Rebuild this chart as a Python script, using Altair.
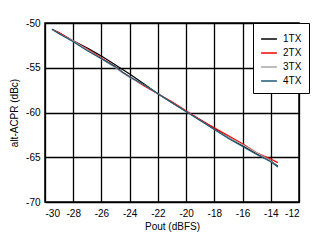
import altair as alt
import pandas as pd

pout = [-29.5, -29, -28, -27, -26, -25, -24.5, -24, -23, -22, -21, -20, -19, -18, -17, -16, -15, -14, -13.5]
tx1 = [-50.7, -51.1, -52.0, -52.8, -53.7, -54.7, -55.2, -55.7, -56.8, -57.9, -58.9, -59.9, -60.8, -61.8, -62.8, -63.7, -64.6, -65.4, -66.0]
tx2 = [-50.7, -51.1, -52.0, -52.9, -53.9, -54.9, -55.5, -56.0, -57.0, -57.9, -58.8, -59.8, -60.8, -61.7, -62.6, -63.5, -64.5, -65.2, -65.6]
tx3 = [-50.7, -51.2, -52.0, -53.0, -54.0, -55.0, -55.6, -56.1, -56.9, -57.9, -58.9, -59.9, -60.9, -61.9, -62.8, -63.6, -64.5, -65.4, -66.1]
tx4 = [-50.7, -51.2, -52.1, -53.1, -54.0, -54.9, -55.5, -56.0, -56.9, -57.9, -58.9, -59.9, -60.9, -61.9, -62.9, -63.8, -64.7, -65.5, -66.1]

series = {"1TX": tx1, "2TX": tx2, "3TX": tx3, "4TX": tx4}
rows = []
for name, vals in series.items():
    for x, y in zip(pout, vals):
        rows.append({"Pout": x, "ACPR": y, "Series": name})
df = pd.DataFrame(rows)

names = ["1TX", "2TX", "3TX", "4TX"]
colors = ["#000000", "#ff0000", "#a6a6a6", "#1f5a78"]

chart = alt.Chart(df).mark_line(strokeWidth=1.2).encode(
    x=alt.X("Pout:Q", title="Pout (dBFS)",
            scale=alt.Scale(domain=[-30, -12], nice=False, zero=False),
            axis=alt.Axis(values=list(range(-30, -11, 2)), grid=True, ticks=False,
                          domain=False, labelPadding=6, titlePadding=3,
                          labelExpr="'' + datum.value")),
    y=alt.Y("ACPR:Q", title="alt-ACPR (dBc)",
            scale=alt.Scale(domain=[-70, -50], nice=False, zero=False),
            axis=alt.Axis(values=list(range(-70, -49, 5)), grid=True, ticks=False,
                          domain=False, labelPadding=5, titlePadding=6,
                          labelExpr="'' + datum.value")),
    color=alt.Color("Series:N", scale=alt.Scale(domain=names, range=colors),
                    legend=alt.Legend(title=None, orient="none", legendX=208, legendY=0,
                                      strokeColor="black", padding=7, symbolType="stroke",
                                      symbolSize=250, symbolStrokeWidth=1.5,
                                      labelFontSize=10, rowPadding=-4, labelOffset=5,
                                      fillColor="white")),
    order=alt.Order("Pout:Q"),
).properties(
    width=254, height=179,
    autosize=alt.AutoSizeParams(type="none"),
    padding={"left": 45, "top": 23, "right": 21, "bottom": 41},
).configure_axis(
    gridColor="black", gridWidth=1.3, gridOpacity=1,
    labelFont="Liberation Sans", titleFont="Liberation Sans",
    labelFontSize=10, titleFontSize=10, titleFontWeight="normal",
    labelColor="black", titleColor="black",
).configure_legend(
    labelFont="Liberation Sans", labelColor="black",
).configure_view(
    stroke="black", strokeWidth=1.5,
)

chart.save("out.html", embed_options={"renderer": "svg", "actions": False})
